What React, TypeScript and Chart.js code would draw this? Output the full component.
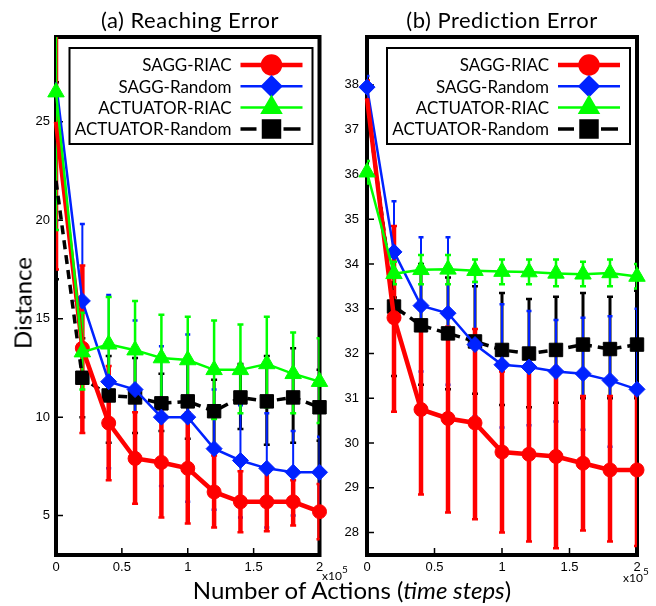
import React, { useEffect, useRef } from 'react';
import { Chart, registerables } from 'chart.js';
import { drawPoint } from 'chart.js/helpers';

Chart.register(...registerables);

// ---------- data ----------
const X_VALUES = [0, 0.2, 0.4, 0.6, 0.8, 1.0, 1.2, 1.4, 1.6, 1.8, 2.0];
const X_TICKS = [0, 0.5, 1, 1.5, 2];
const SERIES_LABELS = ['SAGG-RIAC', 'SAGG-Random', 'ACTUATOR-RIAC', 'ACTUATOR-Random'];

// (a) Reaching Error
const REACH_Y_TICKS = [5, 10, 15, 20, 25];
const REACH_SAGG_RIAC = [25.0, 13.5, 9.7, 7.9, 7.7, 7.4, 6.2, 5.7, 5.7, 5.7, 5.2];
const REACH_SAGG_RIAC_LOW = [17.5, 9.2, 6.8, 5.6, 4.9, 4.6, 4.4, 4.15, 4.2, 4.5, 3.8];
const REACH_SAGG_RIAC_HIGH = [32.5, 17.7, 12.6, 10.25, 10.5, 10.25, 8.05, 7.25, 7.2, 6.8, 6.6];

const REACH_SAGG_RANDOM = [27.0, 15.9, 11.8, 11.4, 10.0, 10.0, 8.4, 7.8, 7.4, 7.2, 7.2];
const REACH_SAGG_RANDOM_LOW = [20.0, 12.0, 7.4, 8.2, 6.5, 5.7, 5.3, 4.9, 4.4, 5.0, 5.4];
const REACH_SAGG_RANDOM_HIGH = [34.0, 19.8, 16.2, 14.9, 13.6, 14.2, 11.4, 10.6, 10.2, 9.3, 9.0];

const REACH_ACT_RIAC = [26.5, 13.3, 13.7, 13.4, 13.0, 12.9, 12.4, 12.4, 12.7, 12.2, 11.8];
const REACH_ACT_RIAC_LOW = [19.5, 11.4, 11.4, 10.9, 10.7, 10.6, 9.9, 10.2, 10.5, 10.2, 9.7];
const REACH_ACT_RIAC_HIGH = [33.5, 15.3, 16.1, 15.9, 15.2, 15.1, 14.9, 14.7, 15.1, 14.3, 14.0];

const REACH_ACT_RANDOM = [22.0, 12.0, 11.1, 11.0, 10.7, 10.8, 10.3, 11.0, 10.8, 11.0, 10.5];
const REACH_ACT_RANDOM_LOW = [17.0, 10.0, 8.7, 9.2, 9.3, 8.9, 8.5, 9.4, 8.6, 8.7, 8.8];
const REACH_ACT_RANDOM_HIGH = [27.0, 14.0, 13.1, 13.0, 12.2, 12.9, 11.9, 12.7, 13.1, 13.5, 12.4];

// (b) Prediction Error
const PRED_Y_TICKS = [28, 29, 30, 31, 32, 33, 34, 35, 36, 37, 38];
const PRED_SAGG_RIAC = [37.7, 32.8, 30.75, 30.55, 30.45, 29.8, 29.75, 29.7, 29.55, 29.4, 29.4];
const PRED_SAGG_RIAC_LOW = [37.3, 30.7, 28.85, 28.45, 28.3, 28.0, 27.8, 27.65, 28.05, 27.8, 27.7];
const PRED_SAGG_RIAC_HIGH = [38.1, 34.85, 32.6, 32.6, 32.55, 31.6, 31.8, 31.7, 31.05, 31.05, 31.05];

const PRED_SAGG_RANDOM = [37.95, 34.27, 33.07, 32.9, 32.2, 31.75, 31.7, 31.6, 31.55, 31.4, 31.2];
const PRED_SAGG_RANDOM_LOW = [37.7, 33.15, 31.6, 31.3, 30.6, 30.35, 30.4, 30.48, 30.3, 29.92, 29.5];
const PRED_SAGG_RANDOM_HIGH = [38.2, 35.4, 34.6, 34.6, 33.6, 33.1, 32.95, 32.75, 32.8, 32.83, 33.0];

const PRED_ACT_RIAC = [36.05, 33.78, 33.87, 33.88, 33.85, 33.83, 33.82, 33.79, 33.77, 33.8, 33.72];
const PRED_ACT_RIAC_LOW = [35.8, 33.55, 33.55, 33.55, 33.6, 33.55, 33.55, 33.5, 33.5, 33.5, 33.45];
const PRED_ACT_RIAC_HIGH = [36.3, 34.05, 34.2, 34.2, 34.1, 34.1, 34.1, 34.1, 34.05, 34.1, 34.0];

const PRED_ACT_RANDOM = [37.6, 33.05, 32.63, 32.45, 32.27, 32.08, 32.0, 32.08, 32.2, 32.1, 32.2];
const PRED_ACT_RANDOM_LOW = [37.3, 31.5, 31.3, 31.2, 31.1, 30.85, 30.8, 30.9, 31.0, 31.0, 31.0];
const PRED_ACT_RANDOM_HIGH = [37.9, 33.25, 34.0, 33.7, 33.5, 33.35, 33.22, 33.27, 33.35, 33.27, 33.4];

// ---------- styles ----------
const STYLES = [
  { color: '#ff0000', lineWidth: 4.5, dash: [] as number[], pointStyle: 'circle', radius: 7, legendRadius: 8.5, errWidth: 4.5, capHalf: 3, order: 1 },
  { color: '#0022ff', lineWidth: 2.5, dash: [] as number[], pointStyle: 'rectRot', radius: 8, legendRadius: 9.5, errWidth: 2, capHalf: 2.5, order: 2 },
  { color: '#00ff00', lineWidth: 2.5, dash: [] as number[], pointStyle: 'triangle', radius: 9.5, legendRadius: 10.5, errWidth: 2.5, capHalf: 3, order: 0 },
  { color: '#000000', lineWidth: 3.5, dash: [9, 6], pointStyle: 'rect', radius: 9.5, legendRadius: 11.3, errWidth: 3, capHalf: 3, order: 3 },
];
// whether the marker at x = 0 is visible, per series
const REACH_FIRST_MARKER = [false, false, true, false];
const PRED_FIRST_MARKER = [false, true, true, false];

const TICK_FONT = { family: "'Liberation Sans', Arial, sans-serif", size: 13 };

const decorPlugin = {
  id: 'decor',
  beforeDatasetsDraw(chart: any) {
    const { ctx, chartArea: ca, scales } = chart;
    const xs = scales.x;
    const ys = scales.y;
    ctx.save();
    ctx.strokeStyle = '#000';
    ctx.lineWidth = 4;
    ctx.strokeRect(ca.left, ca.top, ca.right - ca.left, ca.bottom - ca.top);
    ctx.lineWidth = 1.5;
    ctx.beginPath();
    for (const t of xs.ticks) {
      const px = xs.getPixelForValue(t.value);
      if (px <= ca.left + 2 || px >= ca.right - 2) continue;
      ctx.moveTo(px, ca.bottom);
      ctx.lineTo(px, ca.bottom - 7);
    }
    for (const t of ys.ticks) {
      const py = ys.getPixelForValue(t.value);
      if (py <= ca.top + 2 || py >= ca.bottom - 2) continue;
      ctx.moveTo(ca.left, py);
      ctx.lineTo(ca.left + 7, py);
    }
    ctx.stroke();
    ctx.beginPath();
    ctx.rect(ca.left, ca.top, ca.right - ca.left, ca.bottom - ca.top);
    ctx.clip();
    const sets = chart.data.datasets.slice().sort((a: any, b: any) => b.order - a.order);
    for (const ds of sets) {
      ctx.strokeStyle = ds.borderColor;
      ds.data.forEach((p: any, i: number) => {
        const px = xs.getPixelForValue(p.x);
        const lo = ys.getPixelForValue(ds.errLow[i]);
        const hi = ys.getPixelForValue(ds.errHigh[i]);
        ctx.lineWidth = ds.errWidth;
        ctx.beginPath();
        ctx.moveTo(px, lo);
        ctx.lineTo(px, hi);
        ctx.stroke();
        ctx.lineWidth = 2.5;
        ctx.beginPath();
        ctx.moveTo(px - ds.capHalf, lo);
        ctx.lineTo(px + ds.capHalf, lo);
        ctx.moveTo(px - ds.capHalf, hi);
        ctx.lineTo(px + ds.capHalf, hi);
        ctx.stroke();
      });
    }
    ctx.restore();
  },
  afterDraw(chart: any) {
    const { ctx, chartArea: ca } = chart;
    const w = 243;
    const h = 96;
    const bx = ca.right - 7 - w;
    const by = ca.top + 11;
    ctx.save();
    ctx.fillStyle = '#fff';
    ctx.fillRect(bx, by, w, h);
    ctx.strokeStyle = '#000';
    ctx.lineWidth = 2;
    ctx.strokeRect(bx, by, w, h);
    const items = chart.data.datasets.slice().sort((a: any, b: any) => a.legendIndex - b.legendIndex);
    items.forEach((ds: any, k: number) => {
      const cy = by + 17 + k * 21.3;
      ctx.font = '17px Lato, sans-serif';
      ctx.fillStyle = '#000';
      ctx.textAlign = 'right';
      ctx.textBaseline = 'middle';
      ctx.fillText(ds.label, bx + 162, cy + 1);
      ctx.strokeStyle = ds.borderColor;
      ctx.lineWidth = ds.borderWidth;
      ctx.setLineDash([]);
      ctx.beginPath();
      if (ds.borderDash && ds.borderDash.length) {
        ctx.moveTo(bx + 171, cy);
        ctx.lineTo(bx + 187, cy);
        ctx.moveTo(bx + 214, cy);
        ctx.lineTo(bx + 231, cy);
      } else {
        ctx.moveTo(bx + 171, cy);
        ctx.lineTo(bx + 233, cy);
      }
      ctx.stroke();
      ctx.fillStyle = ds.borderColor;
      drawPoint(ctx, { pointStyle: ds.pointStyle, radius: ds.legendRadius, borderWidth: 1, rotation: 0 } as any, bx + 202, cy);
    });
    ctx.restore();
  },
};

type SeriesData = { values: number[]; low: number[]; high: number[] };

function buildConfig(series: SeriesData[], firstMarker: boolean[], yMin: number, yMax: number, yTicks: number[], yWidth: number, yPad: number, rightPad: number): any {
  const datasets = series.map((s, k) => {
    const st = STYLES[k];
    return {
      label: SERIES_LABELS[k],
      data: X_VALUES.map((x, i) => ({ x, y: s.values[i] })),
      borderColor: st.color,
      backgroundColor: st.color,
      borderWidth: st.lineWidth,
      borderDash: st.dash,
      pointStyle: st.pointStyle,
      pointRadius: X_VALUES.map((_, i) => (i === 0 && !firstMarker[k] ? 0 : st.radius)),
      pointBorderWidth: X_VALUES.map((_, i) => (i === 0 && !firstMarker[k] ? 0 : 1)),
      pointBorderColor: st.color,
      pointBackgroundColor: st.color,
      order: st.order,
      clip: false,
      tension: 0,
      errLow: s.low,
      errHigh: s.high,
      errWidth: st.errWidth,
      capHalf: st.capHalf,
      legendRadius: st.legendRadius,
      legendIndex: k,
    };
  });
  return {
    type: 'line',
    data: { datasets },
    options: {
      animation: false,
      responsive: false,
      devicePixelRatio: 1,
      layout: { padding: { top: 37, right: rightPad, left: 0, bottom: 0 } },
      plugins: { legend: { display: false }, tooltip: { enabled: false }, title: { display: false } },
      scales: {
        x: {
          type: 'linear',
          min: 0,
          max: 2,
          afterBuildTicks: (s: any) => { s.ticks = X_TICKS.map((v) => ({ value: v })); },
          afterFit: (s: any) => { s.height = 51; },
          ticks: { font: TICK_FONT, color: '#000', padding: 5, maxRotation: 0, autoSkip: false, callback: (v: any) => String(v) },
          grid: { display: false, drawTicks: false },
          border: { display: false },
        },
        y: {
          type: 'linear',
          min: yMin,
          max: yMax,
          afterBuildTicks: (s: any) => { s.ticks = yTicks.map((v) => ({ value: v })); },
          afterFit: (s: any) => { s.width = yWidth; },
          ticks: { font: TICK_FONT, color: '#000', padding: yPad, autoSkip: false, callback: (v: any) => String(v) },
          grid: { display: false, drawTicks: false },
          border: { display: false },
        },
      },
    },
    plugins: [decorPlugin],
  };
}

const REACH_SERIES: SeriesData[] = [
  { values: REACH_SAGG_RIAC, low: REACH_SAGG_RIAC_LOW, high: REACH_SAGG_RIAC_HIGH },
  { values: REACH_SAGG_RANDOM, low: REACH_SAGG_RANDOM_LOW, high: REACH_SAGG_RANDOM_HIGH },
  { values: REACH_ACT_RIAC, low: REACH_ACT_RIAC_LOW, high: REACH_ACT_RIAC_HIGH },
  { values: REACH_ACT_RANDOM, low: REACH_ACT_RANDOM_LOW, high: REACH_ACT_RANDOM_HIGH },
];

const PRED_SERIES: SeriesData[] = [
  { values: PRED_SAGG_RIAC, low: PRED_SAGG_RIAC_LOW, high: PRED_SAGG_RIAC_HIGH },
  { values: PRED_SAGG_RANDOM, low: PRED_SAGG_RANDOM_LOW, high: PRED_SAGG_RANDOM_HIGH },
  { values: PRED_ACT_RIAC, low: PRED_ACT_RIAC_LOW, high: PRED_ACT_RIAC_HIGH },
  { values: PRED_ACT_RANDOM, low: PRED_ACT_RANDOM_LOW, high: PRED_ACT_RANDOM_HIGH },
];

const ExpLabel = ({ left, top }: { left: number; top: number }) => (
  <div style={{ position: 'absolute', left, top, font: '12px Lato, sans-serif', lineHeight: '14px', whiteSpace: 'nowrap', color: '#000' }}>
    x10<span style={{ position: 'relative', top: -7, fontSize: 10 }}>5</span>
  </div>
);

export default function App() {
  const leftRef = useRef<HTMLCanvasElement>(null);
  const rightRef = useRef<HTMLCanvasElement>(null);

  useEffect(() => {
    const c1 = new Chart(leftRef.current as HTMLCanvasElement, buildConfig(REACH_SERIES, REACH_FIRST_MARKER, 3, 29.3, REACH_Y_TICKS, 56, 6, 5));
    const c2 = new Chart(rightRef.current as HTMLCanvasElement, buildConfig(PRED_SERIES, PRED_FIRST_MARKER, 27.5, 39.07, PRED_Y_TICKS, 37, 8, 19));
    return () => {
      c1.destroy();
      c2.destroy();
    };
  }, []);

  const titleStyle: React.CSSProperties = {
    position: 'absolute', top: 6, transform: 'translateX(-50%)', font: '22px Lato, sans-serif', letterSpacing: '0.5px', whiteSpace: 'nowrap', color: '#000',
  };

  return (
    <div style={{ position: 'absolute', left: 0, top: 0, width: 656, height: 606, background: '#fff', overflow: 'hidden' }}>
      <canvas ref={leftRef} width={330} height={606} style={{ position: 'absolute', left: 0, top: 0, width: 330, height: 606 }} />
      <canvas ref={rightRef} width={326} height={606} style={{ position: 'absolute', left: 330, top: 0, width: 326, height: 606 }} />
      <div style={{ ...titleStyle, left: 190 }}>(a) Reaching Error</div>
      <div style={{ ...titleStyle, left: 502 }}>(b) Prediction Error</div>
      <div style={{ position: 'absolute', left: 22.4, top: 303, transform: 'translate(-50%, -50%) rotate(-90deg)', font: '24px Lato, sans-serif', whiteSpace: 'nowrap', color: '#000' }}>Distance</div>
      <div style={{ position: 'absolute', left: 352, top: 575, transform: 'translateX(-50%)', font: '24px Lato, sans-serif', whiteSpace: 'nowrap', color: '#000' }}>
        Number of Actions (<i>time steps</i>)
      </div>
      <ExpLabel left={322} top={569} />
      <ExpLabel left={623} top={571} />
    </div>
  );
}
